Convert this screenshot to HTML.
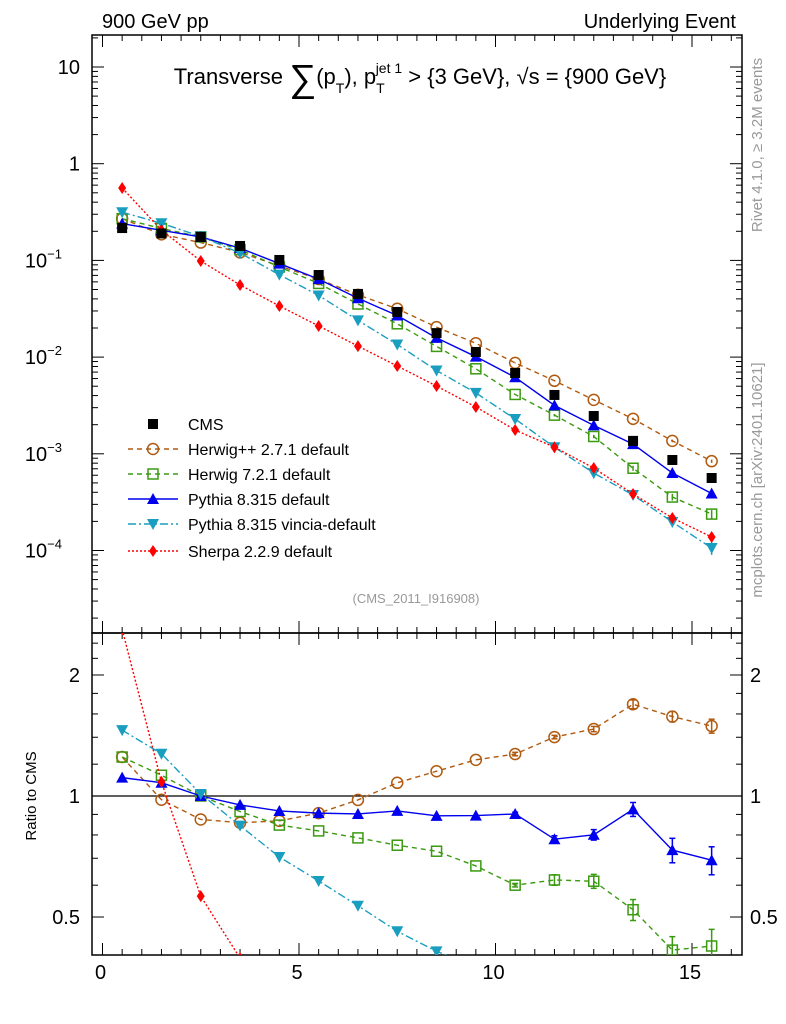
<!DOCTYPE html>
<html><head><meta charset="utf-8"><style>
html,body{margin:0;padding:0;background:#fff;overflow:hidden;width:786px;height:1024px;}
svg{display:block;font-family:"Liberation Sans",sans-serif;}
</style></head><body>
<svg id="c" width="786" height="1024" viewBox="0 0 786 1024">
<text x="102" y="28" font-size="20">900 GeV pp</text>
<text x="736" y="28" font-size="20" text-anchor="end">Underlying Event</text>
<text x="420" y="84" font-size="22" text-anchor="middle">Transverse <tspan font-size="38" dy="7">∑</tspan><tspan dy="-7">(p</tspan><tspan font-size="14" dy="9">T</tspan><tspan dy="-9">), p</tspan><tspan font-size="14" dy="9">T</tspan><tspan font-size="14" dx="-9" dy="-20">jet 1</tspan><tspan dy="11"> &gt; {3 GeV}, √s = {900 GeV}</tspan></text>
<text transform="translate(762,145) rotate(-90)" font-size="15" fill="#999" text-anchor="middle">Rivet 4.1.0, ≥ 3.2M events</text>
<text transform="translate(762,480) rotate(-90)" font-size="15" fill="#999" text-anchor="middle">mcplots.cern.ch [arXiv:2401.10621]</text>
<text x="416" y="603" font-size="13" fill="#999" text-anchor="middle">(CMS_2011_I916908)</text>
<text transform="translate(36,796) rotate(-90)" font-size="15" text-anchor="middle">Ratio to CMS</text>
<g id="g"></g>
</svg>
<script>
const xCenters=[0.5,1.5,2.5,3.5,4.5,5.5,6.5,7.5,8.5,9.5,10.5,11.5,12.5,13.5,14.5,15.5];
const cmsValues=[0.216,0.19,0.175,0.141,0.101,0.0706,0.045,0.0293,0.0177,0.0113,0.00685,0.00406,0.00246,0.00136,0.000863,0.000562];
const herwigppValues=[0.270,0.186,0.153,0.121,0.0876,0.0640,0.0440,0.0316,0.0204,0.0139,0.00871,0.00569,0.00361,0.00230,0.00136,0.000839];
const herwig7Values=[0.270,0.214,0.175,0.129,0.0855,0.0578,0.0354,0.0221,0.0129,0.00757,0.00411,0.00251,0.00151,0.000709,0.000357,0.000238];
const pythiaValues=[0.240,0.205,0.175,0.134,0.0927,0.0640,0.0406,0.0269,0.0158,0.0101,0.00618,0.00317,0.00197,0.00126,0.000633,0.000389];
const vinciaValues=[0.315,0.242,0.177,0.119,0.0712,0.0434,0.0240,0.0135,0.00727,0.00426,0.00229,0.00117,0.000632,0.000375,0.000197,0.000106];
const sherpaValues=[0.561,0.206,0.0986,0.0557,0.0338,0.0210,0.0130,0.00809,0.00502,0.00305,0.00176,0.00117,0.000713,0.000384,0.000217,0.000138];
const herwigppErr=[0,0,0,0,0,0,0,0,0,0,0.01,0.01,0.015,0.025,0.03,0.04];
const herwig7Err=[0,0,0,0,0,0,0,0,0,0,0.01,0.03,0.04,0.06,0.08,0.1];
const pythiaErr=[0,0,0,0,0,0,0,0,0,0,0.01,0.02,0.03,0.04,0.07,0.08];
const vinciaErr=[0,0,0,0,0,0,0,0,0,0,0.01,0.02,0.04,0.06,0.1,0.15];
const sherpaErr=[0,0,0,0,0,0,0,0,0,0,0,0,0,0.02,0.03,0.05];
const mainTickLabels=["10","1","10","10","10","10"];
const mainTickExps=[1,0,-1,-2,-3,-4];
const ratioTickLabels=["0.5","1","2"];
const ratioTickValues=[0.5,1,2];
const xTickLabels=["0","5","10","15"];
const xTickValues=[0,5,10,15];

const NS="http://www.w3.org/2000/svg";
const g=document.getElementById('g');
const L=92,R=742,T=35,M=633,B=955;
const X=v=>102.5+v*39.3;
const Y=v=>67-(Math.log10(v)-1)*96.7;
const RY=v=>796-Math.log10(v)*402;
function el(t,a,p){const e=document.createElementNS(NS,t);for(const k in a)e.setAttribute(k,a[k]);(p||g).appendChild(e);return e;}

const defs=el('defs',{});
const c1=el('clipPath',{id:'cm'},defs);el('rect',{x:L,y:T,width:R-L,height:M-T},c1);
const c2=el('clipPath',{id:'cr'},defs);el('rect',{x:L,y:M,width:R-L,height:B-M},c2);

const f1=el('rect',{x:L,y:T,width:R-L,height:M-T,fill:'none',stroke:'#000','stroke-width':1.5});


const f2=el('rect',{x:L,y:M,width:R-L,height:B-M,fill:'none',stroke:'#000','stroke-width':1.5});



for(let i=0;i<=32;i++){const v=i*0.5;const x=X(v);if(x>R)break;const len=(v%5===0)?12:6;
 [[T,1],[M,-1],[M,1],[B,-1]].forEach(([y,d])=>el('line',{x1:x,x2:x,y1:y,y2:y+d*len,stroke:'#000','stroke-width':1}));}
xTickValues.forEach((v,i)=>{const t=el('text',{x:X(v)-2,y:979,'font-size':20,'text-anchor':'middle'});t.textContent=xTickLabels[i];
 
 });

for(let e=-5;e<=1;e++){for(let m=1;m<=9;m++){const v=m*Math.pow(10,e);const y=Y(v);if(y<T||y>M)continue;const len=m===1?12:6;
 el('line',{x1:L,x2:L+len,y1:y,y2:y,stroke:'#000'});el('line',{x1:R,x2:R-len,y1:y,y2:y,stroke:'#000'});}}
mainTickExps.forEach((e,i)=>{const y=Y(Math.pow(10,e));const t=el('text',{x:e<0?62:80,y:y+7,'font-size':20,'text-anchor':'end'});t.textContent=mainTickLabels[i];
 if(e<0){const s=el('tspan',{'font-size':13,dy:-9},t);s.textContent='−'+(-e);}
 
 });

for(let v=0.4;v<=2.55;v+=0.1){const vv=Math.round(v*10)/10;if(vv>1&&Math.round(vv*10)%2!==0)continue;const y=RY(vv);if(y<M||y>B)continue;
 const maj=ratioTickValues.includes(vv);const len=maj?12:6;
 el('line',{x1:L,x2:L+len,y1:y,y2:y,stroke:'#000'});el('line',{x1:R,x2:R-len,y1:y,y2:y,stroke:'#000'});}
ratioTickValues.forEach((v,i)=>{const y=RY(v)+7;
 const t=el('text',{x:80,y:y,'font-size':20,'text-anchor':'end'});t.textContent=ratioTickLabels[i];
 
 
 const t2=el('text',{x:750,y:y,'font-size':20});t2.textContent=ratioTickLabels[i];
 
 });
const ref=el('line',{x1:L,x2:R,y1:RY(1),y2:RY(1),stroke:'#000','stroke-width':1.2});



function marker(kind,x,y,col,parent){
 const s=5;
 if(kind==='sq')return el('rect',{x:x-s,y:y-s,width:2*s,height:2*s,fill:'#000'},parent);
 if(kind==='osq')return el('rect',{x:x-s,y:y-s,width:2*s,height:2*s,fill:'none',stroke:col,'stroke-width':1.5},parent);
 if(kind==='oc')return el('circle',{cx:x,cy:y,r:5.5,fill:'none',stroke:col,'stroke-width':1.5},parent);
 if(kind==='tu')return el('polygon',{points:`${x-6},${y+5} ${x+6},${y+5} ${x},${y-6}`,fill:col},parent);
 if(kind==='td')return el('polygon',{points:`${x-6},${y-5} ${x+6},${y-5} ${x},${y+6}`,fill:col},parent);
 if(kind==='di')return el('polygon',{points:`${x},${y-6} ${x+4},${y} ${x},${y+6} ${x-4},${y}`,fill:col},parent);
}
const series=[
 {name:'herwigpp',vals:herwigppValues,err:herwigppErr,col:'#b05a10',dash:'5,4',m:'oc',lab:'Herwig++ 2.7.1 default'},
 {name:'herwig7',vals:herwig7Values,err:herwig7Err,col:'#3a9a10',dash:'5,4',m:'osq',lab:'Herwig 7.2.1 default'},
 {name:'pythia',vals:pythiaValues,err:pythiaErr,col:'#0000ee',dash:'',m:'tu',lab:'Pythia 8.315 default'},
 {name:'vincia',vals:vinciaValues,err:vinciaErr,col:'#1a9ec0',dash:'8,3,2,3',m:'td',lab:'Pythia 8.315 vincia-default'},
 {name:'sherpa',vals:sherpaValues,err:sherpaErr,col:'#ff0000',dash:'2,2',m:'di',lab:'Sherpa 2.2.9 default'}];

series.forEach(s=>{
 const gm=el('g',{'clip-path':'url(#cm)'});
 
 
 el('polyline',{points:xCenters.map((x,i)=>X(x)+','+Y(s.vals[i])).join(' '),fill:'none',stroke:s.col,'stroke-width':1.4,'stroke-dasharray':s.dash},gm);
 xCenters.forEach((x,i)=>{const v=s.vals[i],e=s.err[i];
  if(e>0)el('line',{x1:X(x),x2:X(x),y1:Y(v*(1+e)),y2:Y(v*(1-e)),stroke:s.col,'stroke-width':1.5},gm);
  const mk=marker(s.m,X(x),Y(v),s.col,gm);
  
  });
 const gr=el('g',{'clip-path':'url(#cr)'});
 
 
 el('polyline',{points:xCenters.map((x,i)=>X(x)+','+RY(s.vals[i]/cmsValues[i])).join(' '),fill:'none',stroke:s.col,'stroke-width':1.4,'stroke-dasharray':s.dash},gr);
 xCenters.forEach((x,i)=>{const r=s.vals[i]/cmsValues[i],e=s.err[i];
  if(e>0){el('line',{x1:X(x),x2:X(x),y1:RY(r*(1+e)),y2:RY(r*(1-e)),stroke:s.col,'stroke-width':1.5},gr);
   el('line',{x1:X(x)-3,x2:X(x)+3,y1:RY(r*(1+e)),y2:RY(r*(1+e)),stroke:s.col,'stroke-width':1.5},gr);
   el('line',{x1:X(x)-3,x2:X(x)+3,y1:RY(r*(1-e)),y2:RY(r*(1-e)),stroke:s.col,'stroke-width':1.5},gr);}
  const mk=marker(s.m,X(x),RY(r),s.col,gr);
  
  });
});
const gc=el('g',{'clip-path':'url(#cm)'});


xCenters.forEach((x,i)=>{const mk=marker('sq',X(x),Y(cmsValues[i]),'#000',gc);
 
 });

const lg=el('g',{});


const ly=[424,449,474,499,524,551];
marker('sq',153,ly[0],'#000',lg);
let t0=el('text',{x:188,y:ly[0]+6,'font-size':16},lg);t0.textContent='CMS';
series.forEach((s,i)=>{const y=ly[i+1];
 el('line',{x1:128,x2:178,y1:y,y2:y,stroke:s.col,'stroke-width':1.4,'stroke-dasharray':s.dash},lg);
 marker(s.m,153,y,s.col,lg);
 const t=el('text',{x:188,y:y+6,'font-size':16},lg);t.textContent=s.lab;
 
 });
</script>
</body></html>
